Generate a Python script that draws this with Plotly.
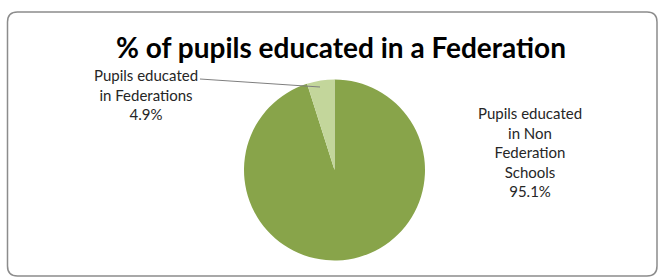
import plotly.graph_objects as go

labels = ["Pupils educated in Non Federation Schools", "Pupils educated in Federations"]
values = [95.1, 4.9]
colors = ["#88A44A", "#C3D69B"]
title = "% of pupils educated in a Federation"

W, H = 664, 278

def px(x):
    return x / W

def py(y):
    return 1 - y / H

fig = go.Figure()
fig.add_trace(go.Pie(
    labels=labels, values=values, sort=False, direction="clockwise", rotation=0,
    marker=dict(colors=colors, line=dict(width=0)),
    textinfo="none", hoverinfo="label+percent", showlegend=False,
    domain=dict(x=[px(244), px(425)], y=[py(260.5), py(79.5)]),
))

# rounded border
l, t, r, b, rad = 7.5, 12, 657, 276, 10
path = (f"M {px(l+rad)},{py(t)} L {px(r-rad)},{py(t)} Q {px(r)},{py(t)} {px(r)},{py(t+rad)} "
        f"L {px(r)},{py(b-rad)} Q {px(r)},{py(b)} {px(r-rad)},{py(b)} "
        f"L {px(l+rad)},{py(b)} Q {px(l)},{py(b)} {px(l)},{py(b-rad)} "
        f"L {px(l)},{py(t+rad)} Q {px(l)},{py(t)} {px(l+rad)},{py(t)} Z")
fig.add_shape(type="path", path=path, xref="paper", yref="paper",
              line=dict(color="#8C8C8C", width=1.5))
# leader line
fig.add_shape(type="line", xref="paper", yref="paper",
              x0=px(200), y0=py(79), x1=px(320), y1=py(87),
              line=dict(color="#7F7F7F", width=1))

font = "Lato, 'Open Sans', sans-serif"
fig.add_annotation(text=f"<b>{title}</b>", x=px(341), y=py(47), xref="paper", yref="paper",
                   showarrow=False, font=dict(family=font, size=28, color="#000000"),
                   xanchor="center", yanchor="middle")
fig.add_annotation(text=f"Pupils educated<br>in Federations<br>{values[1]}%",
                   x=px(146), y=py(94), xref="paper", yref="paper", showarrow=False,
                   font=dict(family=font, size=15, color="#262626"), align="center",
                   xanchor="center", yanchor="middle")
fig.add_annotation(text=f"Pupils educated<br>in Non<br>Federation<br>Schools<br>{values[0]}%",
                   x=px(530), y=py(152), xref="paper", yref="paper", showarrow=False,
                   font=dict(family=font, size=15, color="#262626"), align="center",
                   xanchor="center", yanchor="middle")

fig.update_layout(width=W, height=H, margin=dict(l=0, r=0, t=0, b=0),
                  paper_bgcolor="white", plot_bgcolor="white")
fig.write_html("out.html", config={"displayModeBar": False},
               post_script=["document.body.style.margin='0';document.body.style.overflow='hidden';"])
